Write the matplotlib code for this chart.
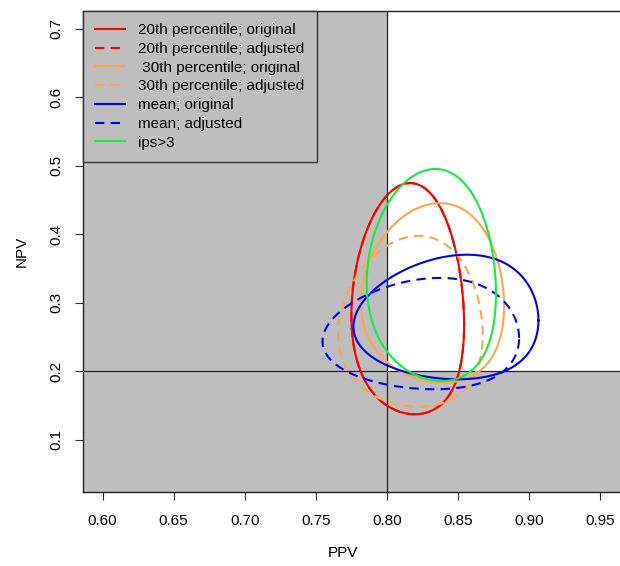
import numpy as np
import matplotlib
matplotlib.use("Agg")
import matplotlib.pyplot as plt
from matplotlib.patches import Rectangle

plt.rcParams['font.family'] = ['Liberation Sans', 'DejaVu Sans']

# Datos: regiones de confianza (elipses en escala logit) para PPV / NPV
etiquetas = ["20th percentile; original", "20th percentile; adjusted",
             " 30th percentile; original", "30th percentile; adjusted",
             "mean; original", "mean; adjusted", "ips>3"]
colores = ["#FF0000", "#FF0000", "#FFA54F", "#FFA54F", "#0000FF", "#0000FF", "#10EE40"]
estilos = ["solid", "dashed", "solid", "dashed", "solid", "dashed", "solid"]

# centro (escala probabilidad), semiejes en escala logit, correlacion
ppv_centro = [0.8180, 0.8180, 0.8383, 0.8222, 0.8531, 0.8352, 0.8363]
npv_centro = [0.2746, 0.2746, 0.2977, 0.2529, 0.2694, 0.2458, 0.3208]
semi_ppv = [0.266, 0.266, 0.370, 0.347, 0.514, 0.499, 0.331]
semi_npv = [0.869, 0.869, 0.638, 0.667, 0.465, 0.440, 0.730]
rho = [-0.04, -0.04, -0.02, 0.0, 0.05, 0.03, -0.05]

# umbrales
ppv_corte = 0.80
npv_corte = 0.20

xticks = [0.60, 0.65, 0.70, 0.75, 0.80, 0.85, 0.90, 0.95]
yticks = [0.1, 0.2, 0.3, 0.4, 0.5, 0.6, 0.7]

def logit(p):
    return np.log(p / (1 - p))

def expit(z):
    return 1 / (1 + np.exp(-z))

fig = plt.figure(figsize=(6.2, 5.66), dpi=100)
ax = fig.add_axes([0.1334, 0.1313, 0.8666, 0.8498])
ax.set_xlim(0.586, 0.964)
ax.set_ylim(0.024, 0.726)

gris = "#BEBEBE"
ax.set_facecolor(gris)
ax.add_patch(Rectangle((ppv_corte, npv_corte), 1 - ppv_corte, 1 - npv_corte,
                       facecolor="white", edgecolor="none", zorder=0.5))
ax.axvline(ppv_corte, color="#222222", lw=0.9, zorder=1)
ax.axhline(npv_corte, color="#222222", lw=0.9, zorder=1)

t = np.linspace(0, 2 * np.pi, 400)
orden = [1, 0, 2, 3, 4, 5, 6]
lineas = {}
for i in orden:
    cx = logit(ppv_centro[i])
    cy = logit(npv_centro[i])
    lx = cx + semi_ppv[i] * np.cos(t)
    ly = cy + semi_npv[i] * (rho[i] * np.cos(t) + np.sqrt(1 - rho[i] ** 2) * np.sin(t))
    ln, = ax.plot(expit(lx), expit(ly), color=colores[i], lw=1.5, zorder=2)
    if estilos[i] == "dashed":
        ln.set_dashes((4.5, 3))
    lineas[i] = ln

handles = [lineas[i] for i in range(len(etiquetas))]
leg = ax.legend(handles, etiquetas, loc="upper left", borderaxespad=0,
                fancybox=False, edgecolor="#333333", facecolor=gris, framealpha=1,
                fontsize=11, handlelength=1.95, handletextpad=0.85,
                borderpad=0.82, labelspacing=0.31)
leg.get_frame().set_linewidth(1.0)
leg.set_zorder(5)

ax.set_xticks(xticks)
ax.set_xticklabels([f"{v:.2f}" for v in xticks])
ax.set_yticks(yticks)
ax.set_yticklabels([f"{v:.1f}" for v in yticks], rotation=90, va="center")
ax.tick_params(axis="both", length=6, width=0.8, color="#333333", labelsize=11)
ax.tick_params(axis="x", pad=10)
ax.tick_params(axis="y", pad=8)

for s in ["left", "bottom", "top"]:
    ax.spines[s].set_color("#222222")
    ax.spines[s].set_linewidth(1.0)
ax.spines["right"].set_visible(False)

ax.set_xlabel("PPV", fontsize=11)
ax.set_ylabel("NPV", fontsize=11)
ax.xaxis.set_label_coords(0.485, -0.112)
ax.yaxis.set_label_coords(-0.10, 0.5)

fig.savefig("out.png", dpi=100)
